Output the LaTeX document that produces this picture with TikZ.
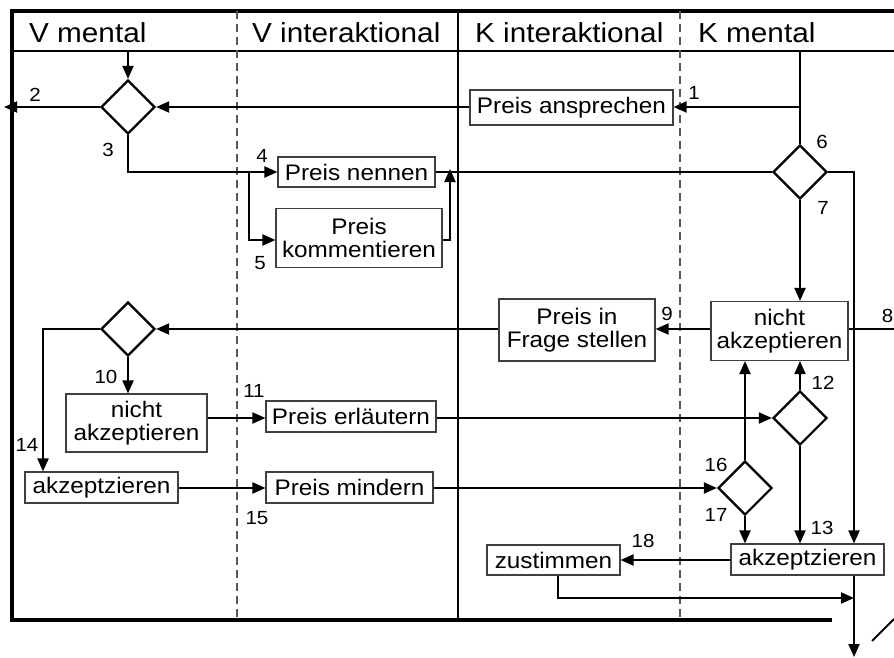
\documentclass[tikz,border=0pt]{standalone}
\usepackage{fontspec}
\setmainfont[FakeStretch=1.08]{Liberation Sans}
\usetikzlibrary{arrows.meta,shapes.geometric}
\begin{document}
\begin{tikzpicture}[x=1pt,y=-1pt,
  box/.style={draw=black!75, line width=1.1pt, inner sep=0pt, align=center,
    font=\fontsize{22.5}{23.5}\selectfont},
  dia/.style={draw, shape=diamond, line width=2.2pt, inner sep=0pt,
    minimum width=54pt, minimum height=54pt},
  conn/.style={line width=1.9pt},
  arr/.style={conn, -{Triangle[length=13pt,width=11pt]}},
  num/.style={font=\fontsize{19}{20}\selectfont, inner sep=0pt},
  head/.style={font=\fontsize{27.5}{29}\selectfont, inner sep=0pt, anchor=base west},
  frame/.style={line width=3.6pt},
  lane/.style={draw=black!65, line width=1.3pt, dash pattern=on 8pt off 5pt}]
\useasboundingbox (0,0) rectangle (894,658);
% frame and lanes
\draw[frame, line join=miter] (894,11) -- (12,11) -- (12,620) -- (832,620);
\draw[line width=2pt] (12,51) -- (894,51);
\draw[line width=2pt] (458,11) -- (458,620);
\draw[lane] (237,11) -- (237,620);
\draw[lane] (680,11) -- (680,620);
\node[head] (h1) at (29,43) {V mental};
\node[head] (h2) at (252,43) {V interaktional};
\node[head] (h3) at (475,43) {K interaktional};
\node[head] (h4) at (698,43) {K mental};
% nodes
\node[box, minimum width=203pt, minimum height=35pt] (ansp) at (571.5,107.5) {Preis ansprechen};
\node[box, minimum width=157pt, minimum height=30pt] (nenn) at (356.5,172) {Preis nennen};
\node[box, minimum width=166pt, minimum height=59pt] (komm) at (359,238) {Preis\\kommentieren};
\node[box, minimum width=156pt, minimum height=62pt] (frag) at (577,330) {Preis in\\Frage stellen};
\node[box, minimum width=137pt, minimum height=59pt] (nichtK) at (779.5,331) {nicht\\akzeptieren};
\node[box, minimum width=141pt, minimum height=58pt] (nichtV) at (136.5,423) {nicht\\akzeptieren};
\node[box, minimum width=170pt, minimum height=31pt] (erl) at (351,416.5) {Preis erläutern};
\node[box, minimum width=153pt, minimum height=31pt] (akzV) at (101.5,487.5) {akzeptzieren};
\node[box, minimum width=167pt, minimum height=31pt] (mind) at (349.5,487.5) {Preis mindern};
\node[box, minimum width=153pt, minimum height=31pt] (akzK) at (807.5,559.5) {akzeptzieren};
\node[box, minimum width=133pt, minimum height=30pt] (zust) at (553.5,560) {zustimmen};
\node[dia] (dV1) at (128,107) {};
\node[dia] (dV2) at (128,329) {};
\node[dia] (d6) at (800,172) {};
\node[dia] (d12) at (800,418) {};
\node[dia] (d16) at (745,488) {};
% coordinates
\coordinate (tV) at (128,51);
\coordinate (tK) at (800,51);
\coordinate (out2) at (4,107);
\coordinate (b3) at (128,172);
\coordinate (br4) at (249,172);
\coordinate (br5) at (249,240);
\coordinate (k1) at (450,240);
\coordinate (k2) at (450,172);
\coordinate (r6) at (854,172);
\coordinate (r8) at (894,329);
\coordinate (l14) at (43,329);
\coordinate (z1) at (558,598);
\coordinate (z2) at (854,598);
\coordinate (down) at (854,657);
\coordinate (s1) at (872,641);
\coordinate (s2) at (894,619);
% connectors
\draw[arr] (tV) -- (dV1.north);
\draw[arr] (ansp.west |- dV1) -- (dV1.east);
\draw[arr] (dV1.west) -- (out2);
\draw[conn] (tK) -- (d6.north);
\draw[arr] (tK |- dV1) -- (ansp.east |- dV1);
\draw[arr] (dV1.south) -- (b3) -- (nenn.west);
\draw[arr] (br4) -- (br5) -- (komm.west |- br5);
\draw[arr] (komm.east |- k1) -- (k1) -- ([yshift=3pt]k2);
\draw[conn] (nenn.east) -- (d6.west);
\draw[arr] (d6.east) -- (r6) -- (r6 |- akzK.north);
\draw[arr] (d6.south) -- (d6.south |- nichtK.north);
\draw[conn] (nichtK.east |- r8) -- (r8);
\draw[arr] (nichtK.west |- r8) -- (frag.east |- r8);
\draw[arr] (frag.west |- r8) -- (dV2.east);
\draw[arr] (dV2.west) -- (l14) -- (l14 |- akzV.north);
\draw[arr] (dV2.south) -- (dV2.south |- nichtV.north);
\draw[arr] (nichtV.east |- d12) -- (erl.west |- d12);
\draw[arr] (erl.east |- d12) -- (d12.west);
\draw[arr] (d12.north) -- (d12.north |- nichtK.south);
\draw[arr] (d12.south) -- (d12.south |- akzK.north);
\draw[arr] (akzV.east |- d16) -- (mind.west |- d16);
\draw[arr] (mind.east |- d16) -- (d16.west);
\draw[arr] (d16.north) -- (d16.north |- nichtK.south);
\draw[arr] (d16.south) -- (d16.south |- akzK.north);
\draw[arr] (akzK.west |- zust) -- (zust.east);
\draw[arr] (z1 |- zust.south) -- (z1) -- (z2);
\draw[arr] (r6 |- akzK.south) -- (down);
\draw[line width=2pt] (s1) -- (s2);
% numbers
\node[num] (n1) at (694,93) {1};
\node[num] (n2) at (35,95) {2};
\node[num] (n3) at (108,150) {3};
\node[num] (n4) at (262,156) {4};
\node[num] (n5) at (260,263) {5};
\node[num] (n6) at (822,142) {6};
\node[num] (n7) at (823,208) {7};
\node[num, anchor=east] (n8) at (893.5,316) {8};
\node[num] (n9) at (667,314) {9};
\node[num] (n10) at (106,377) {10};
\node[num] (n11) at (254,391) {11};
\node[num] (n12) at (823,383) {12};
\node[num] (n13) at (822,528) {13};
\node[num] (n14) at (27,445) {14};
\node[num] (n15) at (257,518) {15};
\node[num] (n16) at (716,465) {16};
\node[num] (n17) at (716,515) {17};
\node[num] (n18) at (643,541) {18};
\end{tikzpicture}
\end{document}
